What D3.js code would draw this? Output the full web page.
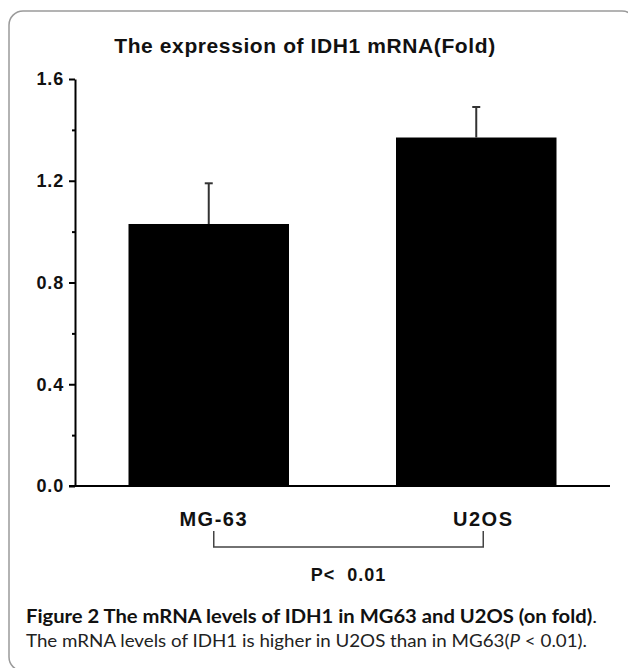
<!DOCTYPE html>
<html>
<head>
<meta charset="utf-8">
<script src="https://cdn.jsdelivr.net/npm/d3@7"></script>
<style>
  body { margin: 0; background: #fff; }
</style>
</head>
<body>
<div id="chart"></div>
<script>
// data
const categories = ["MG-63", "U2OS"];
const means = [1.03, 1.37];
const errors = [0.16, 0.12];
const yTicks = [0, 0.4, 0.8, 1.2, 1.6];
const yMinorTicks = [0.2, 0.6, 1.0, 1.4];
const title = "The expression of IDH1 mRNA(Fold)";
const pLabel = "P<  0.01";

const W = 628, H = 668;
const bold = "Liberation Sans, Arial, sans-serif";

const svg = d3.select("#chart")
  .append("svg")
  .attr("width", W)
  .attr("height", H);

// rounded frame, running off the right and bottom edges
svg.append("rect")
  .attr("x", 9).attr("y", 11)
  .attr("width", 627).attr("height", 660)
  .attr("rx", 14)
  .attr("fill", "none")
  .attr("stroke", "#9a9a9a")
  .attr("stroke-width", 1.5);

// scales
const x = d3.scaleBand()
  .domain(categories)
  .range([75, 610])
  .paddingInner(0.4)
  .paddingOuter(0.2);

const y = d3.scaleLinear().domain([0, 1.6]).range([486, 79]);

// title
svg.append("text")
  .attr("x", 305).attr("y", 53)
  .attr("text-anchor", "middle")
  .attr("font-family", bold)
  .attr("font-weight", "bold")
  .attr("font-size", 21)
  .attr("letter-spacing", 0.6)
  .attr("fill", "#111")
  .text(title);

// bars
svg.selectAll(".bar")
  .data(categories)
  .join("rect")
  .attr("class", "bar")
  .attr("x", d => x(d))
  .attr("width", x.bandwidth())
  .attr("y", (d, i) => y(means[i]))
  .attr("height", (d, i) => y(0) - y(means[i]))
  .attr("fill", "#000");

// error bars (upper only)
const eb = svg.selectAll(".err")
  .data(categories)
  .join("g")
  .attr("class", "err")
  .attr("stroke", "#333")
  .attr("stroke-width", 2);
eb.append("line")
  .attr("x1", d => x(d) + x.bandwidth() / 2)
  .attr("x2", d => x(d) + x.bandwidth() / 2)
  .attr("y1", (d, i) => y(means[i]))
  .attr("y2", (d, i) => y(means[i] + errors[i]));
eb.append("line")
  .attr("x1", d => x(d) + x.bandwidth() / 2 - 4)
  .attr("x2", d => x(d) + x.bandwidth() / 2 + 4)
  .attr("y1", (d, i) => y(means[i] + errors[i]))
  .attr("y2", (d, i) => y(means[i] + errors[i]));

// y axis
const yAxis = svg.append("g")
  .attr("transform", "translate(75,0)")
  .call(d3.axisLeft(y).tickValues(yTicks).tickFormat(d3.format(".1f"))
    .tickSize(6).tickPadding(5).tickSizeOuter(0));
yAxis.select(".domain").attr("stroke-width", 2);
yAxis.selectAll(".tick line").attr("stroke-width", 2);
yAxis.selectAll(".tick text")
  .attr("font-family", bold)
  .attr("font-weight", "bold")
  .attr("font-size", 18)
  .attr("letter-spacing", 0.8)
  .attr("fill", "#111");

// minor ticks
svg.append("g")
  .attr("transform", "translate(75,0)")
  .call(d3.axisLeft(y).tickValues(yMinorTicks).tickFormat("").tickSize(3).tickSizeOuter(0))
  .call(g => g.select(".domain").remove())
  .selectAll("line").attr("stroke-width", 2);

// x baseline
svg.append("line")
  .attr("x1", 69).attr("x2", 610)
  .attr("y1", y(0)).attr("y2", y(0))
  .attr("stroke", "#000")
  .attr("stroke-width", 2);

// bracket ends sit a little right of the bar centres
const bx = categories.map((d, i) => x(d) + x.bandwidth() / 2 + (i === 0 ? 5 : 7));

// category labels
svg.selectAll(".xlab")
  .data(categories)
  .join("text")
  .attr("class", "xlab")
  .attr("x", (d, i) => bx[i])
  .attr("y", 526)
  .attr("text-anchor", "middle")
  .attr("font-family", bold)
  .attr("font-weight", "bold")
  .attr("font-size", 20)
  .attr("letter-spacing", 1.5)
  .attr("fill", "#111")
  .text(d => d);

// significance bracket
svg.append("path")
  .attr("d", `M${bx[0]},531 V547 H${bx[1]} V531`)
  .attr("fill", "none")
  .attr("stroke", "#444")
  .attr("stroke-width", 1.5);

svg.append("text")
  .attr("x", (bx[0] + bx[1]) / 2)
  .attr("y", 581)
  .attr("text-anchor", "middle")
  .attr("font-family", bold)
  .attr("font-weight", "bold")
  .attr("font-size", 18)
  .attr("letter-spacing", 1)
  .attr("fill", "#111")
  .attr("xml:space", "preserve")
  .text(pLabel);

// caption
const cap1 = svg.append("text")
  .attr("x", 26).attr("y", 623)
  .attr("font-family", "Lato, Noto Sans, sans-serif")
  .attr("font-size", 18)
  .attr("fill", "#111")
  .attr("textLength", 571)
  .attr("lengthAdjust", "spacingAndGlyphs");
cap1.append("tspan").attr("font-weight", "bold")
  .text("Figure 2 The mRNA levels of IDH1 in MG63 and U2OS (on fold)");
cap1.append("tspan").text(".");

const cap2 = svg.append("text")
  .attr("x", 26).attr("y", 647)
  .attr("font-family", "Lato, Noto Sans, sans-serif")
  .attr("font-size", 18)
  .attr("fill", "#222")
  .attr("textLength", 561)
  .attr("lengthAdjust", "spacingAndGlyphs");
cap2.append("tspan").text("The mRNA levels of IDH1 is higher in U2OS than in MG63(");
cap2.append("tspan").attr("font-style", "italic").text("P");
cap2.append("tspan").text(" < 0.01).");
</script>
</body>
</html>
